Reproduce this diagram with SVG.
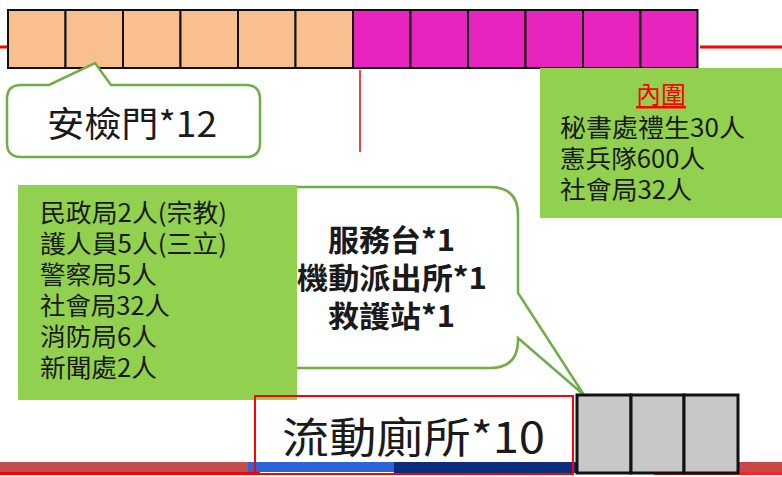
<svg xmlns="http://www.w3.org/2000/svg" width="782" height="477" viewBox="0 0 782 477">
<defs>
<style>
.t{font-family:"Noto Sans CJK TC","Noto Sans CJK SC",sans-serif;fill:#1a1a1a}
.o{fill:#f9bf8f;stroke:#111;stroke-width:2}
.m{fill:#e824bf;stroke:#111;stroke-width:2}
.g{fill:#c8c8c8;stroke:#111;stroke-width:3}
.gb{fill:#92d050}
.co{fill:#fff;stroke:#70ad47;stroke-width:2.5;stroke-linejoin:miter}
.rl{stroke:#ff0000;fill:none}
</style>
</defs>
<rect width="782" height="477" fill="#fff"/>
<!-- bottom strip -->
<g id="strip">
<rect x="0" y="462" width="248" height="10" fill="#c0504d"/>
<rect x="248" y="462" width="146" height="10" fill="#2e62d8"/>
<rect x="394" y="462" width="260" height="11" fill="#0c2d7c"/>
<rect x="654" y="462" width="128" height="10" fill="#c84848"/>
<rect x="0" y="472" width="260" height="3" fill="#ff0000"/>
<rect x="654" y="472" width="128" height="3" fill="#ff2020"/>
</g>
<g id="connectors">
<line class="rl" x1="0" y1="47" x2="8" y2="47" stroke-width="3"/>
<line class="rl" x1="700" y1="47" x2="782" y2="47" stroke-width="3"/>
<line class="rl" x1="360" y1="70" x2="360" y2="152" stroke-width="1.5"/>
</g>
<g id="gates">
<rect class="o" x="8" y="10" width="57.5" height="58"/>
<rect class="o" x="65.5" y="10" width="57.5" height="58"/>
<rect class="o" x="123" y="10" width="57.5" height="58"/>
<rect class="o" x="180.5" y="10" width="57.5" height="58"/>
<rect class="o" x="238" y="10" width="57.5" height="58"/>
<rect class="o" x="295.5" y="10" width="57.5" height="58"/>
<rect class="m" x="353" y="10" width="57.5" height="58"/>
<rect class="m" x="410.5" y="10" width="57.5" height="58"/>
<rect class="m" x="468" y="10" width="57.5" height="58"/>
<rect class="m" x="525.5" y="10" width="57.5" height="58"/>
<rect class="m" x="583" y="10" width="57.5" height="58"/>
<rect class="m" x="640.5" y="10" width="57" height="58"/>
</g>
<g id="callout-gate">
<path class="co" d="M21,85 L49,85 L95,63 L111,85 L246,85 Q260,85 260,99 L260,143 Q260,157 246,157 L21,157 Q7,157 7,143 L7,99 Q7,85 21,85 Z"/>
<text class="t" x="47" y="137" font-size="35" textLength="170" lengthAdjust="spacingAndGlyphs">安檢門*12</text>
</g>
<g id="inner">
<rect class="gb" x="540" y="68" width="242" height="150"/>
<text class="t" x="661" y="104" font-size="25" text-anchor="middle" style="fill:#ff0000" text-decoration="underline">內圍</text>
<text class="t" x="560" y="137" font-size="25" textLength="185" lengthAdjust="spacingAndGlyphs">秘書處禮生30人</text>
<text class="t" x="560" y="168" font-size="25" textLength="145" lengthAdjust="spacingAndGlyphs">憲兵隊600人</text>
<text class="t" x="560" y="199" font-size="25" textLength="132" lengthAdjust="spacingAndGlyphs">社會局32人</text>
</g>
<g id="callout-service">
<path class="co" d="M260,187 L490,187 Q518,187 518,215 L518,293 L584,395 L518,338 L518,340 Q518,368 490,368 L260,368 Z"/>
<text class="t" x="328" y="251" font-size="30" font-weight="bold" textLength="127" lengthAdjust="spacingAndGlyphs">服務台*1</text>
<text class="t" x="297" y="289" font-size="30" font-weight="bold" textLength="190" lengthAdjust="spacingAndGlyphs">機動派出所*1</text>
<text class="t" x="328" y="327" font-size="30" font-weight="bold" textLength="127" lengthAdjust="spacingAndGlyphs">救護站*1</text>
</g>
<g id="outer">
<rect class="gb" x="18" y="185" width="279" height="215"/>
<text class="t" x="40" y="222" font-size="25" textLength="187" lengthAdjust="spacingAndGlyphs">民政局2人(宗教)</text>
<text class="t" x="40" y="253" font-size="25" textLength="187" lengthAdjust="spacingAndGlyphs">護人員5人(三立)</text>
<text class="t" x="40" y="284" font-size="25" textLength="117" lengthAdjust="spacingAndGlyphs">警察局5人</text>
<text class="t" x="40" y="315" font-size="25" textLength="130" lengthAdjust="spacingAndGlyphs">社會局32人</text>
<text class="t" x="40" y="346" font-size="25" textLength="117" lengthAdjust="spacingAndGlyphs">消防局6人</text>
<text class="t" x="40" y="377" font-size="25" textLength="117" lengthAdjust="spacingAndGlyphs">新聞處2人</text>
</g>
<g id="toilet-label">
<rect class="rl" x="255" y="396" width="318" height="78" stroke-width="2"/>
<text class="t" x="282" y="453" font-size="42" textLength="263" lengthAdjust="spacingAndGlyphs">流動廁所*10</text>
</g>
<g id="toilets">
<rect class="g" x="577" y="395" width="54" height="78"/>
<rect class="g" x="631" y="395" width="53" height="78"/>
<rect class="g" x="684" y="395" width="54" height="78"/>
</g>
</svg>
